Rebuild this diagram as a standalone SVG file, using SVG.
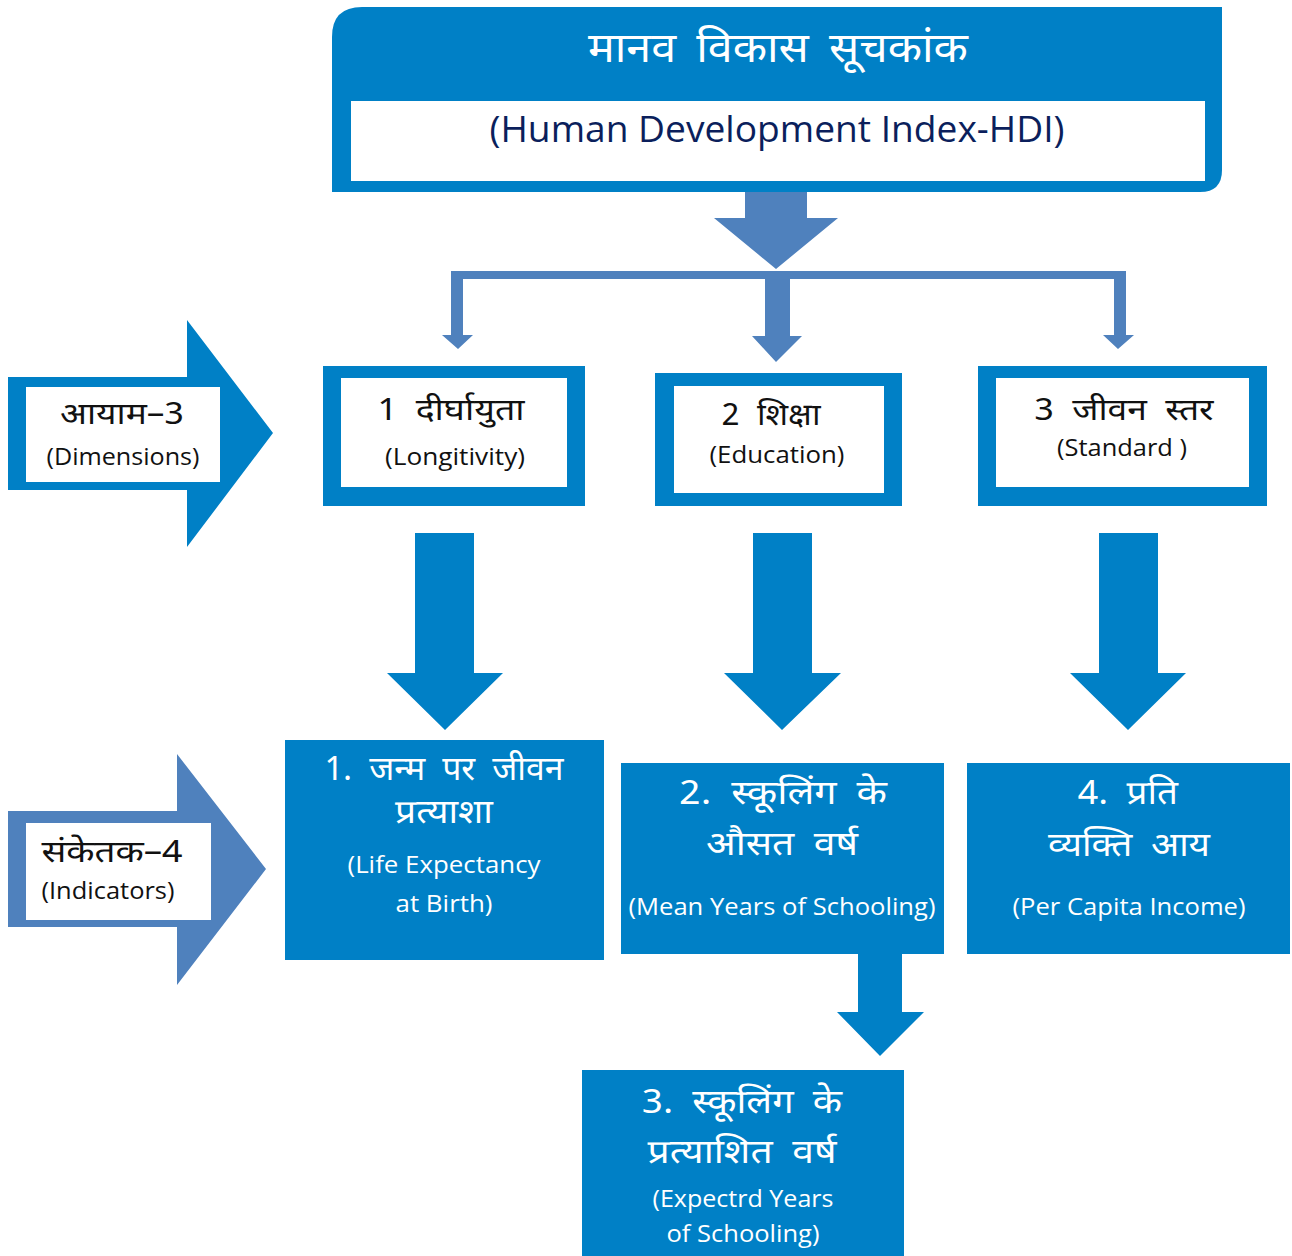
<svg xmlns="http://www.w3.org/2000/svg" width="1292" height="1256" viewBox="0 0 1292 1256">
<style>
.blue{fill:#0080C6}
.steel{fill:#4F81BD}
.white{fill:#FFFFFF}
text{font-family:"Noto Sans Devanagari","Lohit Devanagari","Mangal","Open Sans","Noto Sans",sans-serif;text-anchor:middle}
.hi{word-spacing:8px}
.en{font-family:"Open Sans","Noto Sans","Liberation Sans",sans-serif;word-spacing:0}
.dk{fill:#111111}
.wt{fill:#FFFFFF}
.nv{fill:#0B1F5C}
</style>
<rect width="1292" height="1256" fill="#FFFFFF"/>

<g id="title">
<path class="blue" d="M362,7 H1222 V170 Q1222,192 1200,192 H332 V37 Q332,7 362,7 Z"/>
<rect class="white" x="351" y="101" width="854" height="80"/>
<text class="wt hi" x="778" y="62" font-size="42" textLength="380" lengthAdjust="spacingAndGlyphs">मानव विकास सूचकांक</text>
<text class="en nv" x="777" y="142" font-size="36" textLength="575" lengthAdjust="spacingAndGlyphs">(Human Development Index-HDI)</text>
</g>

<g id="connectors">
<polygon class="steel" points="745,192 807,192 807,218 838,218 776,269 714,218 745,218"/>
<path class="steel" d="M451,271 H1126 V335 H1134 L1118,349 L1103,335 H1114 V279 H790 V336 H802 L776,362 L752,336 H765 V279 H463 V335 H473 L458,349 L442,335 H451 Z"/>
<polygon class="blue" points="415,533 474,533 474,673 503,673 445,730 387,673 415,673"/>
<polygon class="blue" points="753,533 812,533 812,673 841,673 782,730 724,673 753,673"/>
<polygon class="blue" points="1099,533 1158,533 1158,673 1186,673 1128,730 1070,673 1099,673"/>
<polygon class="blue" points="858,954 902,954 902,1012 924,1012 880,1056 837,1012 858,1012"/>
</g>

<g id="dimensions-label">
<polygon class="blue" points="8,377 187,377 187,320 273,433 187,547 187,490 8,490"/>
<rect class="white" x="26" y="387" width="194" height="95"/>
<text class="dk" x="122" y="424" font-size="30" textLength="124" lengthAdjust="spacingAndGlyphs">आयाम–3</text>
<text class="en dk" x="123" y="465" font-size="23" textLength="153" lengthAdjust="spacingAndGlyphs">(Dimensions)</text>
</g>

<g id="dim1">
<rect class="blue" x="323" y="366" width="262" height="140"/>
<rect class="white" x="341" y="378" width="226" height="109"/>
<text class="dk hi" x="451" y="420" font-size="31" textLength="147" lengthAdjust="spacingAndGlyphs">1 दीर्घायुता</text>
<text class="en dk" x="455" y="465" font-size="23" textLength="140" lengthAdjust="spacingAndGlyphs">(Longitivity)</text>
</g>

<g id="dim2">
<rect class="blue" x="655" y="373" width="247" height="133"/>
<rect class="white" x="674" y="386" width="210" height="107"/>
<text class="dk hi" x="771" y="425" font-size="31" textLength="99" lengthAdjust="spacingAndGlyphs">2 शिक्षा</text>
<text class="en dk" x="777" y="463" font-size="23" textLength="135" lengthAdjust="spacingAndGlyphs">(Education)</text>
</g>

<g id="dim3">
<rect class="blue" x="978" y="366" width="289" height="140"/>
<rect class="white" x="996" y="378" width="253" height="109"/>
<text class="dk hi" x="1124" y="420" font-size="31" textLength="179" lengthAdjust="spacingAndGlyphs">3 जीवन स्तर</text>
<text class="en dk" x="1122" y="456" font-size="23" textLength="130" lengthAdjust="spacingAndGlyphs">(Standard )</text>
</g>

<g id="indicators-label">
<polygon class="steel" points="8,811 177,811 177,754 266,869 177,985 177,927 8,927"/>
<rect class="white" x="26" y="823" width="185" height="97"/>
<text class="dk" x="112" y="862" font-size="30" textLength="141" lengthAdjust="spacingAndGlyphs">संकेतक–4</text>
<text class="en dk" x="108" y="899" font-size="23" textLength="133" lengthAdjust="spacingAndGlyphs">(Indicators)</text>
</g>

<g id="ind1">
<rect class="blue" x="285" y="740" width="319" height="220"/>
<text class="wt hi" x="444" y="780" font-size="33" textLength="239" lengthAdjust="spacingAndGlyphs">1. जन्म पर जीवन</text>
<text class="wt" x="444" y="823" font-size="33" textLength="98" lengthAdjust="spacingAndGlyphs">प्रत्याशा</text>
<text class="en wt" x="444" y="873" font-size="24" textLength="193" lengthAdjust="spacingAndGlyphs">(Life Expectancy</text>
<text class="en wt" x="444" y="912" font-size="24" textLength="97" lengthAdjust="spacingAndGlyphs">at Birth)</text>
</g>

<g id="ind2">
<rect class="blue" x="621" y="763" width="323" height="191"/>
<text class="wt hi" x="783" y="804" font-size="33" textLength="208" lengthAdjust="spacingAndGlyphs">2. स्कूलिंग के</text>
<text class="wt hi" x="782" y="855" font-size="33" textLength="152" lengthAdjust="spacingAndGlyphs">औसत वर्ष</text>
<text class="en wt" x="782" y="915" font-size="24" textLength="307" lengthAdjust="spacingAndGlyphs">(Mean Years of Schooling)</text>
</g>

<g id="ind4">
<rect class="blue" x="967" y="763" width="323" height="191"/>
<text class="wt hi" x="1128" y="804" font-size="33" textLength="100" lengthAdjust="spacingAndGlyphs">4. प्रति</text>
<text class="wt hi" x="1129" y="856" font-size="33" textLength="162" lengthAdjust="spacingAndGlyphs">व्यक्ति आय</text>
<text class="en wt" x="1129" y="915" font-size="24" textLength="233" lengthAdjust="spacingAndGlyphs">(Per Capita Income)</text>
</g>

<g id="ind3">
<rect class="blue" x="582" y="1070" width="322" height="186"/>
<text class="wt hi" x="742" y="1113" font-size="33" textLength="200" lengthAdjust="spacingAndGlyphs">3. स्कूलिंग के</text>
<text class="wt hi" x="742" y="1163" font-size="33" textLength="189" lengthAdjust="spacingAndGlyphs">प्रत्याशित वर्ष</text>
<text class="en wt" x="743" y="1207" font-size="24" textLength="181" lengthAdjust="spacingAndGlyphs">(Expectrd Years</text>
<text class="en wt" x="743" y="1242" font-size="24" textLength="153" lengthAdjust="spacingAndGlyphs">of Schooling)</text>
</g>
</svg>
